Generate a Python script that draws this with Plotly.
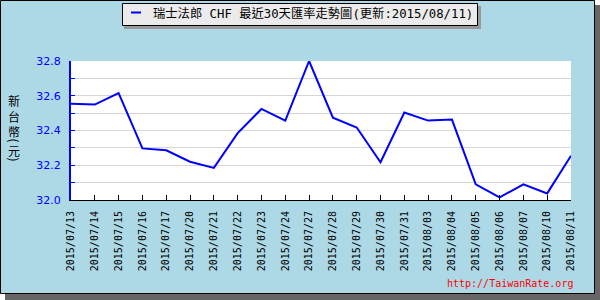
import plotly.graph_objects as go

dates = ["2015/07/13", "2015/07/14", "2015/07/15", "2015/07/16", "2015/07/17",
         "2015/07/20", "2015/07/21", "2015/07/22", "2015/07/23", "2015/07/24",
         "2015/07/27", "2015/07/28", "2015/07/29", "2015/07/30", "2015/07/31",
         "2015/08/03", "2015/08/04", "2015/08/05", "2015/08/06", "2015/08/07",
         "2015/08/10", "2015/08/11"]
rates = [32.554, 32.549, 32.615, 32.297, 32.286,
         32.220, 32.185, 32.385, 32.524, 32.457,
         32.800, 32.474, 32.417, 32.217, 32.503,
         32.457, 32.463, 32.090, 32.015, 32.090,
         32.038, 32.255]
ytick_vals = [32.0, 32.2, 32.4, 32.6, 32.8]
ytick_text = ["32.0", "32.2", "32.4", "32.6", "32.8"]
title_text = "瑞士法郎 CHF 最近30天匯率走勢圖(更新:2015/08/11)"
ylabel_main = "新<br>台<br>幣"
ylabel_unit = ["(", "元", ")"]
watermark = "http://TaiwanRate.org"

W, H = 600, 300
L, R, T, B = 71, 29, 61, 100
PW = W - L - R
PH = H - T - B


def px(x):
    return (x - L) / PW


def py(y):
    return (H - B - y) / PH


fig = go.Figure()
fig.add_trace(go.Scatter(x=dates, y=rates, mode="lines",
                         line=dict(color="#0000FF", width=2),
                         showlegend=False, hoverinfo="skip"))

shapes = [
    # outer shadow
    dict(type="rect", xref="paper", yref="paper", x0=px(5), x1=px(600), y0=py(5), y1=py(300),
         fillcolor="#666666", line=dict(width=0), layer="below"),
    # main background
    dict(type="rect", xref="paper", yref="paper", x0=px(0.5), x1=px(594.5), y0=py(0.5), y1=py(293.5),
         fillcolor="#ADD8E6", line=dict(color="black", width=1), layer="below"),
    # plot area background
    dict(type="rect", xref="paper", yref="paper", x0=0, x1=1, y0=0, y1=1,
         fillcolor="white", line=dict(width=0), layer="below"),
    # legend shadow
    dict(type="rect", xref="paper", yref="paper", x0=px(124), x1=px(481), y0=py(6), y1=py(29),
         fillcolor="#999999", line=dict(width=0), layer="above"),
    # legend box
    dict(type="rect", xref="paper", yref="paper", x0=px(122.5), x1=px(477.5), y0=py(3.5), y1=py(25.5),
         fillcolor="#EBEBEB", line=dict(color="black", width=1), layer="above"),
    # legend line sample
    dict(type="line", xref="paper", yref="paper", x0=px(131), x1=px(141), y0=py(12.5), y1=py(12.5),
         line=dict(color="#0000FF", width=2), layer="above"),
]

annotations = [
    dict(xref="paper", yref="paper", x=px(151), y=py(13.5), text=title_text, showarrow=False,
         xanchor="left", yanchor="middle",
         font=dict(family="DejaVu Sans Mono, Noto Sans CJK TC", size=12.3, color="black")),
    dict(xref="paper", yref="paper", x=px(575), y=py(283), text=watermark, showarrow=False,
         xanchor="right", yanchor="middle",
         font=dict(family="DejaVu Sans Mono", size=10, color="#FF0000")),
    dict(xref="paper", yref="paper", x=px(14), y=py(115.5), text=ylabel_main, showarrow=False,
         xanchor="center", yanchor="middle",
         font=dict(family="Noto Sans CJK TC", size=12, color="black")),
]
unit_y = [140.5, 150, 159.5]
for ch, yy in zip(ylabel_unit, unit_y):
    rot = 90 if ch in "()" else 0
    annotations.append(dict(xref="paper", yref="paper", x=px(14), y=py(yy), text=ch,
                            showarrow=False, xanchor="center", yanchor="middle", textangle=rot,
                            font=dict(family="Noto Sans CJK TC", size=12, color="black")))

fig.update_layout(
    width=W, height=H,
    margin=dict(l=L, r=R, t=T, b=B, pad=0),
    paper_bgcolor="white",
    plot_bgcolor="white",
    shapes=shapes,
    annotations=annotations,
    xaxis=dict(type="category", range=[0, len(dates) - 1], showgrid=False,
               showline=True, linecolor="black", linewidth=1,
               ticks="inside", ticklen=5, tickcolor="black", tickwidth=1,
               tickangle=-90, ticklabelstandoff=6,
               tickfont=dict(family="DejaVu Sans Mono", size=10, color="black"),
               zeroline=False, fixedrange=True),
    yaxis=dict(range=[32.0, 32.8], tickvals=ytick_vals, ticktext=ytick_text,
               showgrid=True, gridcolor="#D6D6D6", gridwidth=1,
               showline=True, linecolor="#0000FF", linewidth=2,
               ticks="inside", ticklen=4, tickcolor="#0000FF",
               ticklabelstandoff=6,
               tickfont=dict(family="DejaVu Sans", size=11, color="#0000FF"),
               minor=dict(dtick=0.1, tick0=32.0, ticks="inside", ticklen=4, tickcolor="#0000FF",
                          showgrid=True, gridcolor="#D6D6D6", gridwidth=1),
               zeroline=False, fixedrange=True),
)

fig.write_html("out.html", config={"displayModeBar": False})
